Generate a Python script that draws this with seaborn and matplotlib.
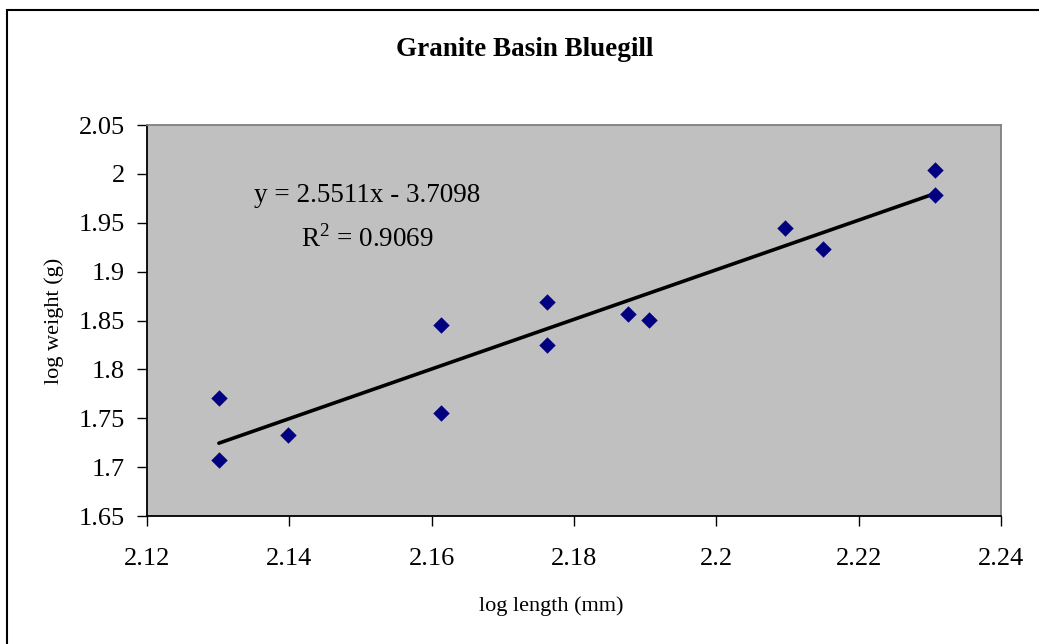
"""Granite Basin Bluegill length-weight regression (log-log)."""

import matplotlib
matplotlib.use('Agg')
import matplotlib.pyplot as plt
import matplotlib.patches as patches
import numpy as np
import pandas as pd
import seaborn as sns

# data
log_length = [2.1301, 2.1301, 2.1398, 2.1613, 2.1613, 2.1762, 2.1762,
              2.1876, 2.1905, 2.2097, 2.2150, 2.2307, 2.2307]
log_weight = [1.771, 1.707, 1.733, 1.845, 1.755, 1.869, 1.825,
              1.857, 1.851, 1.945, 1.923, 2.004, 1.978]
equation_text = 'y = 2.5511x - 3.7098'
r2_text = r'R$^2$ = 0.9069'
x_ticks = [2.12, 2.14, 2.16, 2.18, 2.20, 2.22, 2.24]
x_tick_labels = ['2.12', '2.14', '2.16', '2.18', '2.2', '2.22', '2.24']
y_ticks = [1.65, 1.70, 1.75, 1.80, 1.85, 1.90, 1.95, 2.00, 2.05]
y_tick_labels = ['1.65', '1.7', '1.75', '1.8', '1.85', '1.9', '1.95', '2', '2.05']

df = pd.DataFrame({'log_length': log_length, 'log_weight': log_weight})

sns.set_style('white')
plt.rcParams['font.family'] = ['Liberation Serif', 'DejaVu Serif']
plt.rcParams['mathtext.fontset'] = 'custom'
plt.rcParams['mathtext.rm'] = 'Liberation Serif'
plt.rcParams['text.color'] = 'black'
plt.rcParams['axes.labelcolor'] = 'black'
plt.rcParams['xtick.color'] = 'black'
plt.rcParams['ytick.color'] = 'black'

W, H = 1039, 644
fig = plt.figure(figsize=(W / 100, H / 100), dpi=100)
ax = fig.add_axes([147 / W, 1 - 516 / H, (1001 - 147) / W, (516 - 125) / H])
ax.set_facecolor('#C0C0C0')

sns.regplot(data=df, x='log_length', y='log_weight', ax=ax, scatter=False,
            ci=None, truncate=True, line_kws={'color': 'black', 'lw': 2.6})
sns.scatterplot(data=df, x='log_length', y='log_weight', ax=ax, marker='D',
                s=70, color='#000080', linewidth=0, zorder=3)

ax.set_xlim(2.12, 2.24)
ax.set_ylim(1.65, 2.05)
ax.set_xticks(x_ticks)
ax.set_xticklabels(x_tick_labels)
ax.set_yticks(y_ticks)
ax.set_yticklabels(y_tick_labels)
ax.tick_params(axis='both', labelsize=19, direction='out', length=7,
               width=1, color='black', bottom=True, left=True)
ax.tick_params(axis='x', pad=16)
ax.tick_params(axis='y', pad=9)

for side in ['left', 'bottom']:
    ax.spines[side].set_color('black')
    ax.spines[side].set_linewidth(1.3)
for side in ['top', 'right']:
    ax.spines[side].set_color('#808080')
    ax.spines[side].set_linewidth(1.3)

ax.set_xlabel('log length (mm)', fontsize=16)
ax.set_ylabel('log weight (g)', fontsize=16)
ax.xaxis.set_label_coords(0.473, -0.205)
ax.yaxis.set_label_coords(-0.097, 0.5)

ax.text(0.258, 0.82, equation_text, transform=ax.transAxes, fontsize=19.5,
        ha='center', va='center')
ax.text(0.258, 0.71, r2_text, transform=ax.transAxes, fontsize=19.5,
        ha='center', va='center')

fig.text(0.505, 1 - 49 / H, 'Granite Basin Bluegill', fontsize=19.5,
         fontweight='bold', ha='center', va='center')

# chart area border (right/bottom edges fall outside the crop)
fig.patches.append(patches.Rectangle((6.5 / W, -0.1), 1.2, 1.1 - 10 / H,
                                     transform=fig.transFigure, fill=False,
                                     edgecolor='black', lw=1.5))

fig.savefig('out.png', dpi=100)
